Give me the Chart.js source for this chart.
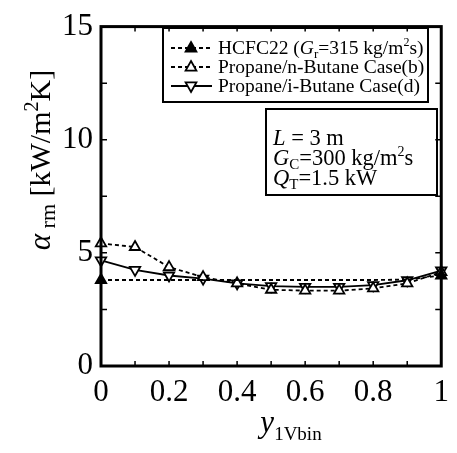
<!DOCTYPE html>
<html>
<head>
<meta charset="utf-8">
<script src="https://cdn.jsdelivr.net/npm/chart.js@4.4.1/dist/chart.umd.min.js"></script>
<style>
  html, body { margin: 0; padding: 0; background: #fff; }
  #wrap { width: 457px; height: 453px; }
</style>
</head>
<body>
<div id="wrap"><canvas id="c" width="457" height="453"></canvas></div>
<script>
// Vapour quality bins (x) and mean heat transfer coefficient (kW/m2K)
const quality = [0, 0.1, 0.2, 0.3, 0.4, 0.5, 0.6, 0.7, 0.8, 0.9, 1.0];
const hcfc22 = [3.8, 3.8, 3.8, 3.8, 3.8, 3.8, 3.8, 3.8, 3.8, 3.82, 4.0];
const propaneNButane = [5.42, 5.26, 4.37, 3.93, 3.65, 3.37, 3.33, 3.33, 3.43, 3.65, 4.15];
const propaneIButane = [4.67, 4.25, 4.0, 3.86, 3.65, 3.53, 3.5, 3.5, 3.57, 3.79, 4.22];
const xTicks = [0, 0.2, 0.4, 0.6, 0.8, 1];
const yTicks = [0, 5, 10, 15];

const SERIF = "'Liberation Serif', 'Times New Roman', serif";

function pts(values) {
  return quality.map((x, i) => ({ x: x, y: values[i] }));
}

// Draws a run of text pieces; each piece can be italic, sub- or superscript.
function drawRuns(ctx, x, y, runs, base) {
  let cx = x;
  for (const r of runs) {
    const size = r.size || base;
    ctx.font = (r.italic ? 'italic ' : '') + size + 'px ' + SERIF;
    const dy = r.dy || 0;
    ctx.fillText(r.t, cx, y + dy);
    cx += ctx.measureText(r.t).width + (r.kern || 0);
  }
  return cx;
}
function runsWidth(ctx, runs, base) {
  let w = 0;
  for (const r of runs) {
    const size = r.size || base;
    ctx.font = (r.italic ? 'italic ' : '') + size + 'px ' + SERIF;
    w += ctx.measureText(r.t).width + (r.kern || 0);
  }
  return w;
}

function drawTri(ctx, x, y, r, down, filled) {
  ctx.beginPath();
  const s = down ? -1 : 1;
  ctx.moveTo(x, y - s * r);
  ctx.lineTo(x + r * 0.9, y + s * r * 0.6);
  ctx.lineTo(x - r * 0.9, y + s * r * 0.6);
  ctx.closePath();
  ctx.fillStyle = filled ? '#000' : '#fff';
  ctx.fill();
  ctx.lineWidth = 1.8;
  ctx.strokeStyle = '#000';
  ctx.stroke();
}

const framePlugin = {
  id: 'frame',
  afterDraw(chart) {
    const ctx = chart.ctx;
    const a = chart.chartArea;
    const xs = chart.scales.x, ys = chart.scales.y;
    ctx.save();
    ctx.strokeStyle = '#000';
    // inward ticks on all four sides
    ctx.lineWidth = 1.5;
    ctx.beginPath();
    for (let i = 1; i < 10; i++) {
      const px = xs.getPixelForValue(i / 10);
      ctx.moveTo(px, a.bottom); ctx.lineTo(px, a.bottom - 5);
      ctx.moveTo(px, a.top); ctx.lineTo(px, a.top + 5);
    }
    for (let v = 2.5; v < 15; v += 2.5) {
      const py = ys.getPixelForValue(v);
      ctx.moveTo(a.left, py); ctx.lineTo(a.left + 6, py);
      ctx.moveTo(a.right, py); ctx.lineTo(a.right - 6, py);
    }
    ctx.stroke();
    ctx.lineWidth = 3;
    ctx.strokeRect(a.left, a.top, a.right - a.left, a.bottom - a.top);

    ctx.fillStyle = '#000';
    ctx.textBaseline = 'alphabetic';

    // y-axis title, rotated
    ctx.save();
    const ytitle = [
      { t: 'α', italic: true, size: 31 },
      { t: ' rm', size: 22, dy: 5 },
      { t: ' [kW/m', size: 30 },
      { t: '2', size: 20, dy: -12 },
      { t: 'K]', size: 30 }
    ];
    const yw = runsWidth(ctx, ytitle, 30);
    ctx.translate(50, 160);
    ctx.rotate(-Math.PI / 2);
    drawRuns(ctx, -yw / 2, 0, ytitle, 30);
    ctx.restore();

    // x-axis title
    const xtitle = [
      { t: 'y', italic: true, size: 31 },
      { t: '1Vbin', size: 19, dy: 8 }
    ];
    const xw = runsWidth(ctx, xtitle, 30);
    drawRuns(ctx, 291 - xw / 2, 432, xtitle, 30);

    // legend box
    ctx.lineWidth = 2;
    ctx.strokeRect(163, 28, 265, 74);
    const rows = [
      { y: 48, dash: [4, 3], down: false, filled: true,
        runs: [{ t: 'HCFC22 (' }, { t: 'G', italic: true }, { t: 'r', size: 13, dy: 4 },
               { t: '=315 kg/m' }, { t: '2', size: 12, dy: -8 }, { t: 's)' }] },
      { y: 67, dash: [4, 3], down: false, filled: false,
        runs: [{ t: 'Propane/n-Butane Case(b)' }] },
      { y: 86, dash: [], down: true, filled: false,
        runs: [{ t: 'Propane/i-Butane Case(d)' }] }
    ];
    for (const r of rows) {
      ctx.setLineDash(r.dash);
      ctx.lineWidth = 1.8;
      ctx.beginPath();
      ctx.moveTo(171, r.y); ctx.lineTo(212, r.y);
      ctx.stroke();
      ctx.setLineDash([]);
      drawTri(ctx, 191, r.y, 6, r.down, r.filled);
      ctx.fillStyle = '#000';
      drawRuns(ctx, 218, r.y + 6, r.runs, 19.5);
    }

    // operating conditions box
    ctx.lineWidth = 2;
    ctx.strokeRect(266, 109, 171, 86);
    ctx.fillStyle = '#000';
    drawRuns(ctx, 273, 145, [{ t: 'L', italic: true }, { t: ' = 3 m' }], 22.5);
    drawRuns(ctx, 273, 165, [{ t: 'G', italic: true }, { t: 'C', size: 15, dy: 4 },
      { t: '=300 kg/m' }, { t: '2', size: 14, dy: -9 }, { t: 's' }], 22.5);
    drawRuns(ctx, 273, 185, [{ t: 'Q', italic: true }, { t: 'T', size: 15, dy: 4 },
      { t: '=1.5 kW' }], 22.5);
    ctx.restore();
  }
};

const ds = (label, values, opts) => Object.assign({
  label: label,
  data: pts(values),
  borderColor: '#000',
  borderWidth: 1.8,
  pointStyle: 'triangle',
  pointRadius: 6,
  pointBorderWidth: 1.8,
  pointBorderColor: '#000',
  pointBackgroundColor: '#fff',
  tension: 0,
  clip: false
}, opts);

new Chart(document.getElementById('c'), {
  type: 'line',
  data: {
    datasets: [
      ds('HCFC22', hcfc22, {
        borderDash: [4, 3],
        pointBackgroundColor: '#000',
        pointRadius: (c) => (c.dataIndex === 0 || c.dataIndex === quality.length - 1) ? 6 : 0
      }),
      ds('Propane/n-Butane Case(b)', propaneNButane, { borderDash: [4, 3] }),
      ds('Propane/i-Butane Case(d)', propaneIButane, { pointRotation: 180 })
    ]
  },
  options: {
    responsive: false,
    animation: false,
    layout: { padding: { top: 19, right: 8, left: 0, bottom: 0 } },
    plugins: { legend: { display: false }, tooltip: { enabled: false } },
    scales: {
      x: {
        type: 'linear', min: 0, max: 1,
        afterBuildTicks: (s) => { s.ticks = xTicks.map(v => ({ value: v })); },
        afterFit: (s) => { s.height = 87; },
        grid: { display: false, drawTicks: false },
        border: { display: false },
        ticks: { color: '#000', padding: 8, maxRotation: 0,
          font: { family: SERIF, size: 31 },
          callback: (v) => String(v) }
      },
      y: {
        type: 'linear', min: 0, max: 15,
        afterBuildTicks: (s) => { s.ticks = yTicks.map(v => ({ value: v })); },
        afterFit: (s) => { s.width = 101; },
        grid: { display: false, drawTicks: false },
        border: { display: false },
        ticks: { color: '#000', padding: 8,
          font: { family: SERIF, size: 31 },
          callback: (v) => String(v) }
      }
    }
  },
  plugins: [framePlugin]
});
</script>
</body>
</html>
